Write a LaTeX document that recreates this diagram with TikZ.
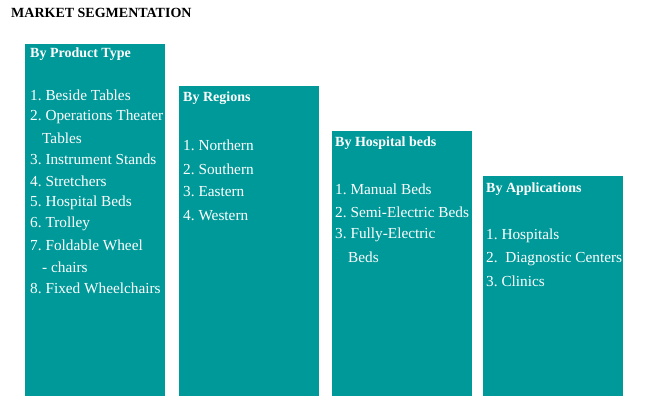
\documentclass[tikz,border=0pt]{standalone}
\usepackage{fontspec}
\setmainfont{Liberation Serif}
\frenchspacing
\definecolor{teal1}{RGB}{0,153,153}
\tikzset{
  segbox/.style={fill=teal1, draw=none, anchor=north west, inner sep=0pt},
  segtext/.style={text=white, anchor=west, inner sep=0pt, font=\fontsize{15.3}{17}\selectfont},
  seghead/.style={segtext, font=\fontsize{14}{17}\selectfont\bfseries},
}
\begin{document}
\begin{tikzpicture}[x=1pt,y=-1pt]
\useasboundingbox (0,0) rectangle (651,406);
\node[anchor=west, inner sep=0pt, font=\fontsize{14}{16}\selectfont\bfseries] (title) at (11,13) {MARKET SEGMENTATION};
% boxes
\node[segbox, minimum width=140pt, minimum height=352pt] (b1) at (25,44) {};
\node[segbox, minimum width=140pt, minimum height=310pt] (b2) at (179,86) {};
\node[segbox, minimum width=140pt, minimum height=265pt] (b3) at (332,131) {};
\node[segbox, minimum width=140pt, minimum height=220pt] (b4) at (483,176) {};
% box 1
\node[seghead] (h1) at (30,54) {By Product Type};
\node[segtext] (p1) at (30,95) {1. Beside Tables};
\node[segtext] (p2) at (30,116.5) {2. Operations Theater};
\node[segtext] (p2b) at (42,138) {Tables};
\node[segtext] (p3) at (30,159.5) {3. Instrument Stands};
\node[segtext] (p4) at (30,181) {4. Stretchers};
\node[segtext] (p5) at (30,202.5) {5. Hospital Beds};
\node[segtext] (p6) at (30,224) {6. Trolley};
\node[segtext] (p7) at (30,245.5) {7. Foldable Wheel};
\node[segtext] (p7b) at (42,267) {- chairs};
\node[segtext] (p8) at (30,288.5) {8. Fixed Wheelchairs};
% box 2
\node[seghead] (h2) at (183,98) {By Regions};
\node[segtext] (r1) at (183,145) {1. Northern};
\node[segtext] (r2) at (183,169) {2. Southern};
\node[segtext] (r3) at (183,192) {3. Eastern};
\node[segtext] (r4) at (183,216) {4. Western};
% box 3
\node[seghead] (h3) at (335,143) {By Hospital beds};
\node[segtext] (s1) at (335,189.5) {1. Manual Beds};
\node[segtext] (s2) at (335,212) {2. Semi-Electric Beds};
\node[segtext] (s3) at (335,234.5) {3. Fully-Electric};
\node[segtext] (s3b) at (348,257) {Beds};
% box 4
\node[seghead] (h4) at (486,189) {By Applications};
\node[segtext] (a1) at (486,236) {1. Hospitals};
\node[segtext] (a2) at (486,259) {2.\ \ Diagnostic Centers};
\node[segtext] (a3) at (486,281) {3. Clinics};
\end{tikzpicture}
\end{document}
